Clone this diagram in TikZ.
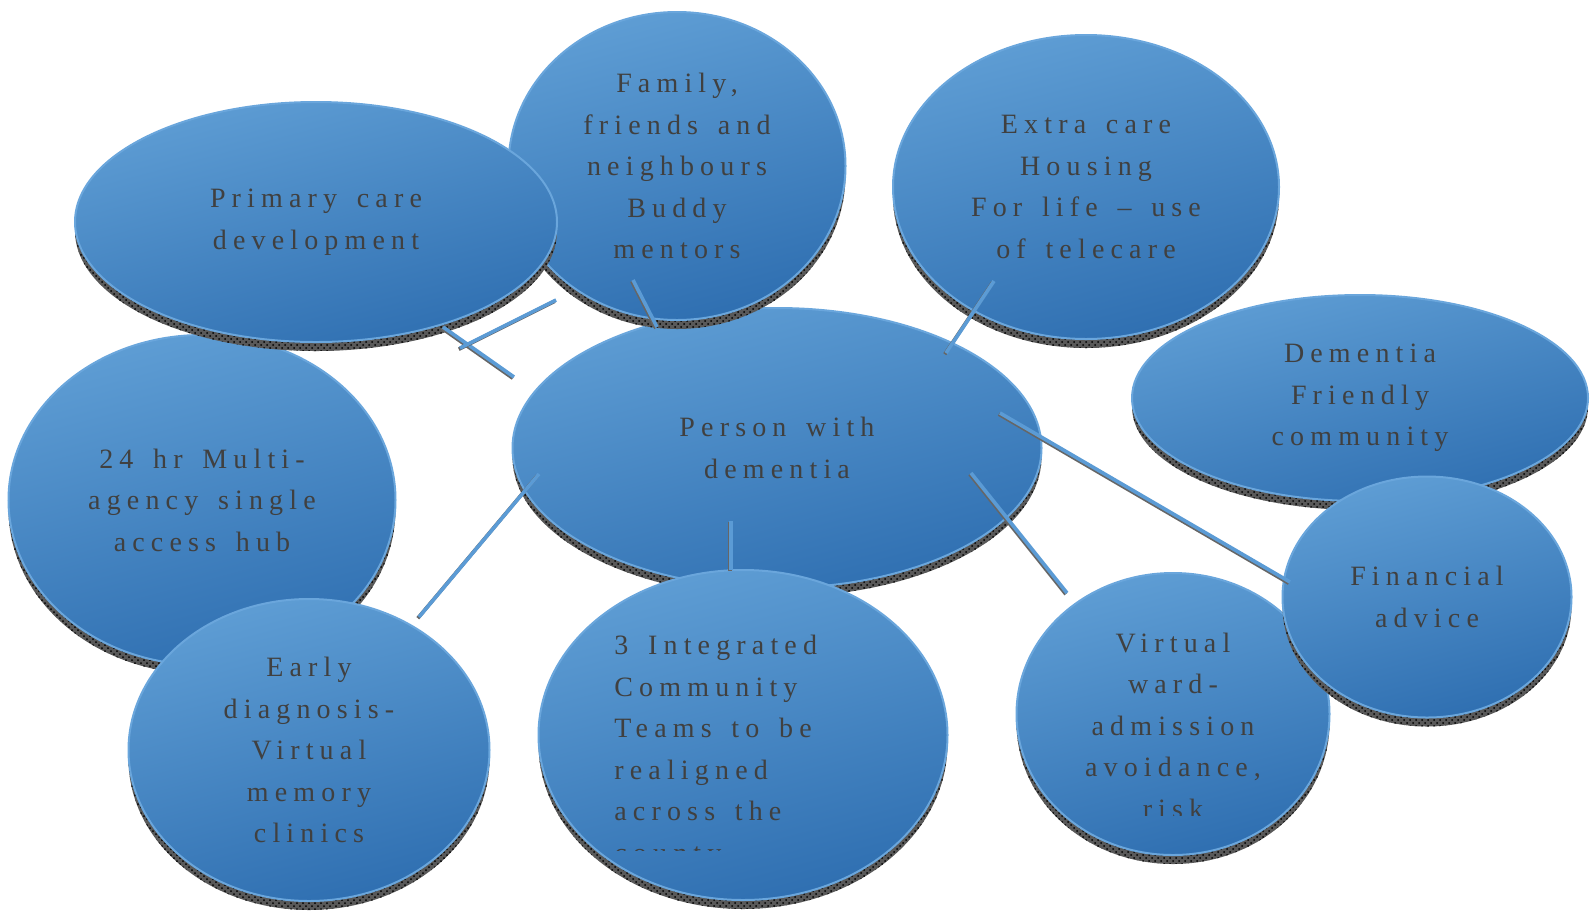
\documentclass[tikz,border=0pt]{standalone}
\usepackage{fontspec}
\newfontfamily\spacedserif[LetterSpace=22, WordSpace=1.5, Ligatures=TeX]{Liberation Serif}
\usepackage{tikz}
\usetikzlibrary{shapes.geometric, shadows, patterns}

\definecolor{bubbletop}{HTML}{5E9DD4}
\definecolor{bubblebottom}{HTML}{2F6FB1}
\definecolor{bubbleedge}{HTML}{6AA6DC}
\definecolor{linkblue}{HTML}{5B9BD5}
\definecolor{labelgrey}{HTML}{404040}

\tikzstyle{bubble text} = [
    text=labelgrey,
    inner sep=0pt,
    font=\spacedserif\fontsize{14}{20.75}\selectfont
]
\tikzstyle{bubble} = [
    bubble text,
    ellipse,
    draw=bubbleedge,
    line width=1pt,
    top color=bubbletop,
    bottom color=bubblebottom,
    shading angle=15, % lighter towards the top left
    general shadow={fill=black!65, shadow yshift=-4.5pt},
    general shadow={pattern=crosshatch dots, pattern color=black, shadow yshift=-4.5pt},
    align=center
]
\tikzstyle{dims} = [
    minimum width=#1*0.5pt
]
\tikzstyle{link} = [
    draw=linkblue,
    line width=1.8pt,
    preaction={draw=black!60, line width=1.8pt, transform canvas={xshift=-0.6pt, yshift=-0.6pt}}
]

\begin{document}
\begin{tikzpicture}[x=0.5pt, y=-0.5pt]
\useasboundingbox (0,0) rectangle (1590,912);

% centre first, the others overlap it
\node [bubble, dims=529, minimum height=280*0.5pt] (person) at (777,448) {Person with\\dementia};
\node [bubble, dims=337, minimum height=308*0.5pt] (family) at (677,166) {Family,\\friends and\\neighbours\\Buddy\\mentors};
\node [bubble, dims=387, minimum height=330*0.5pt] (hub) at (202,500) {24 hr Multi-\\agency single\\access hub};
\node [bubble, dims=482, minimum height=240*0.5pt] (primary) at (316,222) {Primary care\\development};
\node [bubble, dims=386, minimum height=304*0.5pt] (housing) at (1086,187) {Extra care\\Housing\\For life – use\\of telecare};
\node [bubble, dims=456, minimum height=206*0.5pt] (friendly) at (1360,398) {Dementia\\Friendly\\community};

% text runs past the bottom of these two (anchored on the last baseline)
\node [bubble, dims=313, minimum height=282*0.5pt] (ward) at (1173,714) {};
\begin{scope}
    \clip (1020,600) rectangle (1330,815);
    \node [bubble text, align=center, anchor=base] (wardtext) at (1173,818) {Virtual\\ward-\\admission\\avoidance,\\risk};
\end{scope}
\node [bubble, dims=289, minimum height=241*0.5pt] (finance) at (1427,597) {Financial\\advice};
\node [bubble, dims=409, minimum height=330*0.5pt] (teams) at (743,735) {};
\begin{scope}
    \clip (560,600) rectangle (930,850.5);
    \node [bubble text, align=left, anchor=base west] (teamstext) at (614,862) {3 Integrated\\Community\\Teams to be\\realigned\\across the\\county};
\end{scope}
\node [bubble, dims=361, minimum height=302*0.5pt] (diagnosis) at (309,750) {Early\\diagnosis-\\Virtual\\memory\\clinics};

% spokes
\coordinate (family-in) at (633,280);
\coordinate (family-out) at (657,327);
\coordinate (primary-in) at (443,327);
\coordinate (primary-out) at (514,377);
\coordinate (cross-in) at (556,300);
\coordinate (cross-out) at (460,348);
\coordinate (housing-in) at (994,281);
\coordinate (housing-out) at (946,353);
\coordinate (finance-in) at (1000,413);
\coordinate (finance-out) at (1290,582);
\coordinate (ward-in) at (971,473);
\coordinate (ward-out) at (1067,593);
\coordinate (teams-in) at (731,521);
\coordinate (teams-out) at (731,570);
\coordinate (diagnosis-in) at (539,474);
\coordinate (diagnosis-out) at (419,617);

\draw [link] (family-in) -- (family-out);
\draw [link] (primary-in) -- (primary-out);
\draw [link] (cross-in) -- (cross-out);
\draw [link] (housing-in) -- (housing-out);
\draw [link] (finance-in) -- (finance-out);
\draw [link] (ward-in) -- (ward-out);
\draw [link] (teams-in) -- (teams-out);
\draw [link] (diagnosis-in) -- (diagnosis-out);
\end{tikzpicture}
\end{document}
